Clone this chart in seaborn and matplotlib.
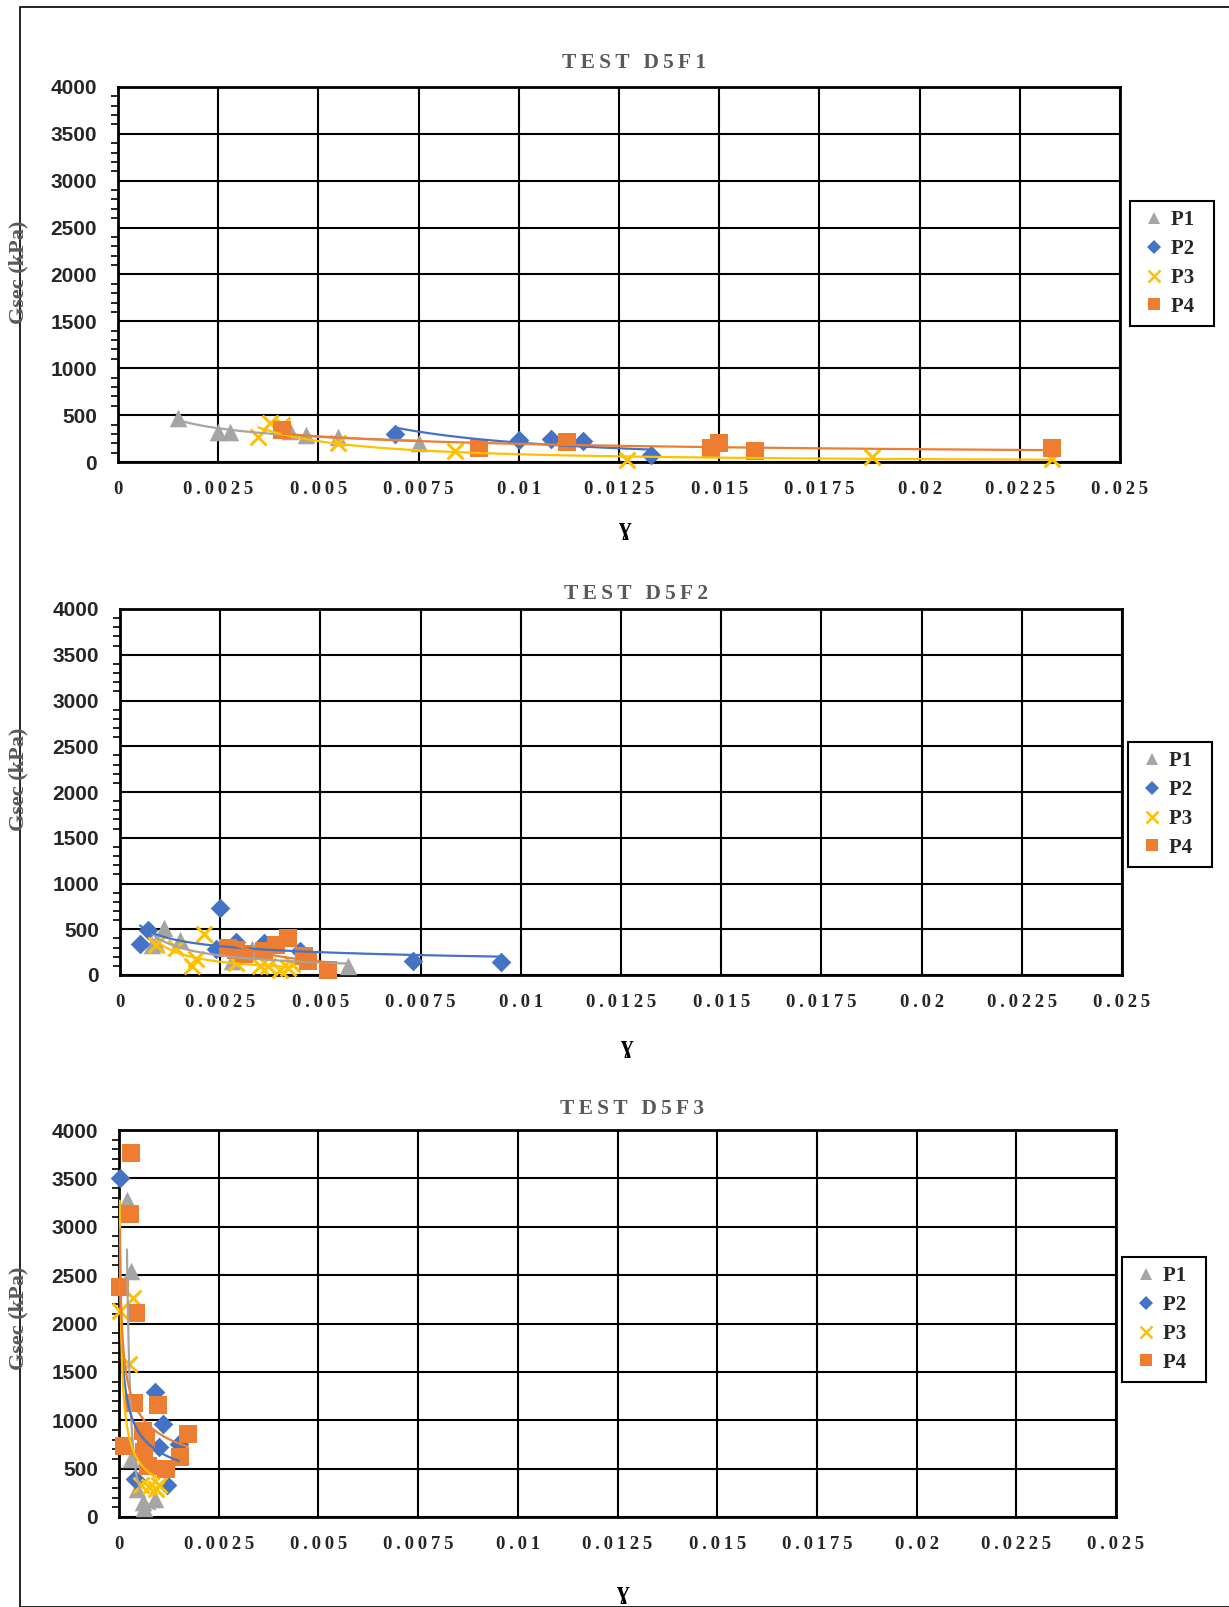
import numpy as np
import pandas as pd
import matplotlib
matplotlib.use("Agg")
import matplotlib.pyplot as plt
import seaborn as sns
from matplotlib.ticker import MultipleLocator, FixedLocator, FixedFormatter
from matplotlib.patches import Rectangle
from matplotlib.lines import Line2D

sns.set_style("white")
plt.rcParams['font.family'] = ['Liberation Serif', 'DejaVu Serif']

# ---------------- data ----------------
series_names = ["P1", "P2", "P3", "P4"]
titles = ["TEST D5F1", "TEST D5F2", "TEST D5F3"]
x_ticks = [0, 0.0025, 0.005, 0.0075, 0.01, 0.0125, 0.015, 0.0175, 0.02, 0.0225, 0.025]
x_tick_labels = ["0", "0.0025", "0.005", "0.0075", "0.01", "0.0125", "0.015",
                 "0.0175", "0.02", "0.0225", "0.025"]
y_ticks = [0, 500, 1000, 1500, 2000, 2500, 3000, 3500, 4000]

# TEST D5F1
f1_p1_x = [0.0015, 0.0025, 0.0028, 0.0043, 0.0047, 0.0055, 0.0075]
f1_p1_y = [470, 320, 320, 330, 290, 270, 205]
f1_p2_x = [0.0069, 0.0100, 0.0108, 0.0116, 0.0133]
f1_p2_y = [300, 230, 250, 220, 80]
f1_p3_x = [0.0035, 0.0038, 0.0041, 0.0055, 0.0084, 0.0127, 0.0188, 0.0233]
f1_p3_y = [270, 420, 400, 200, 120, 20, 55, 30]
f1_p4_x = [0.0041, 0.0090, 0.0112, 0.0148, 0.0150, 0.0159, 0.0233]
f1_p4_y = [340, 150, 215, 145, 205, 115, 145]

# TEST D5F2
f2_p1_x = [0.0008, 0.0009, 0.0011, 0.0015, 0.0028, 0.0033, 0.0057]
f2_p1_y = [330, 350, 510, 385, 150, 280, 95]
f2_p2_x = [0.0005, 0.0007, 0.0024, 0.0025, 0.0029, 0.0036, 0.0045, 0.0073, 0.0095]
f2_p2_y = [340, 490, 285, 730, 365, 350, 260, 155, 140]
f2_p3_x = [0.0009, 0.0014, 0.0018, 0.0019, 0.0021, 0.0029, 0.0035, 0.0037, 0.0040, 0.0042, 0.0043]
f2_p3_y = [330, 295, 100, 170, 450, 135, 100, 100, 60, 80, 115]
f2_p4_x = [0.0027, 0.0029, 0.0031, 0.0036, 0.0039, 0.0042, 0.0046, 0.0047, 0.0052]
f2_p4_y = [295, 275, 225, 260, 330, 400, 205, 150, 60]

# TEST D5F3
f3_p1_x = [0.0002, 0.0003, 0.0003, 0.00046, 0.0006, 0.00063, 0.0009]
f3_p1_y = [3280, 2540, 600, 290, 155, 90, 190]
f3_p2_x = [0.00002, 0.0009, 0.0011, 0.0010, 0.0015, 0.0004, 0.0012]
f3_p2_y = [3500, 1295, 960, 720, 755, 395, 330]
f3_p3_x = [0.00002, 0.00036, 0.00025, 0.00055, 0.00076, 0.00093, 0.00101]
f3_p3_y = [2130, 2260, 1580, 330, 310, 290, 330]
f3_p4_x = [0.0003, 0.00027, 0.00002, 0.00042, 0.00038, 0.00099, 0.00013, 0.00059,
           0.00067, 0.00063, 0.00173, 0.00152, 0.00118, 0.00072]
f3_p4_y = [3760, 3135, 2380, 2110, 1180, 1160, 730, 890, 810, 670, 860, 625, 500, 530]

panels = [
    [(f1_p1_x, f1_p1_y), (f1_p2_x, f1_p2_y), (f1_p3_x, f1_p3_y), (f1_p4_x, f1_p4_y)],
    [(f2_p1_x, f2_p1_y), (f2_p2_x, f2_p2_y), (f2_p3_x, f2_p3_y), (f2_p4_x, f2_p4_y)],
    [(f3_p1_x, f3_p1_y), (f3_p2_x, f3_p2_y), (f3_p3_x, f3_p3_y), (f3_p4_x, f3_p4_y)],
]

# ---------------- styling ----------------
colors = {"P1": "#A5A5A5", "P2": "#4472C4", "P3": "#FFC000", "P4": "#ED7D31"}
markers = {"P1": "^", "P2": "D", "P3": "x", "P4": "s"}
sizes = {"P1": 160, "P2": 100, "P3": 130, "P4": 160}
TITLE_GRAY = "#595959"

W, H = 1229, 1607
fig = plt.figure(figsize=(W / 100, H / 100), dpi=100)

# outer frame
fig.add_artist(Rectangle((20 / W, 0), 1.2, 1 - 7 / H, transform=fig.transFigure,
                         fill=False, edgecolor="black", linewidth=1.2, zorder=0))

# axes boxes in pixel coordinates (left, top, right, bottom)
boxes = [(118, 87, 1120, 462), (120, 609, 1122, 975), (119, 1130, 1116, 1517)]
legend_anchor = [(1130, 201), (1128, 742), (1122, 1257)]
xlabel_y = [528, 1046, 1592]
ylabel_center = [272, 779, 1318]
title_y = [63, 594, 1109]


def spaced(s):
    return "\u2009".join(list(s))


for i, (box, data) in enumerate(zip(boxes, panels)):
    l, t, r, b = box
    ax = fig.add_axes([l / W, 1 - b / H, (r - l) / W, (b - t) / H])
    rows = []
    for name, (xs, ys) in zip(series_names, data):
        for xv, yv in zip(xs, ys):
            rows.append({"gamma": xv, "G": yv, "series": name})
    df = pd.DataFrame(rows)

    for name in series_names:
        sub = df[df["series"] == name]
        kw = dict(linewidth=2.2) if name == "P3" else dict(linewidth=0)
        sns.scatterplot(data=sub, x="gamma", y="G", ax=ax, color=colors[name],
                        marker=markers[name], s=sizes[name], zorder=3, legend=False,
                        clip_on=False, **kw)
    # power trendlines (y = a * x^b) fitted to each series
    for name in series_names:
        sub = df[df["series"] == name]
        bcoef, lna = np.polyfit(np.log(sub["gamma"]), np.log(sub["G"]), 1)
        xx = np.linspace(sub["gamma"].min(), sub["gamma"].max(), 300)
        yy = np.exp(lna) * xx ** bcoef
        trend = pd.DataFrame({"gamma": xx, "G": yy})
        sns.lineplot(data=trend, x="gamma", y="G", ax=ax, color=colors[name],
                     linewidth=1.6, zorder=4, legend=False)

    ax.set_xlim(0, 0.025)
    ax.set_ylim(0, 4000)
    ax.xaxis.set_major_locator(FixedLocator(x_ticks))
    ax.xaxis.set_major_formatter(FixedFormatter([spaced(s) for s in x_tick_labels]))
    ax.yaxis.set_major_locator(FixedLocator(y_ticks))
    ax.yaxis.set_minor_locator(MultipleLocator(100))
    ax.grid(True, which="major", color="black", linewidth=1.5, zorder=0)
    ax.set_axisbelow(True)
    for sp in ax.spines.values():
        sp.set_color("black")
        sp.set_linewidth(2.0)
    ax.tick_params(axis="x", which="major", direction="out", length=6, width=1.5,
                   color="black", pad=8, labelsize=13.5)
    ax.tick_params(axis="y", which="major", direction="out", length=5, width=1.5,
                   color="black", pad=10, labelsize=15)
    ax.tick_params(axis="y", which="minor", direction="out", length=5, width=1.2,
                   color="black", left=True)
    for lab in ax.get_xticklabels():
        lab.set_fontweight("bold")
        lab.set_family(["Liberation Serif", "DejaVu Serif"])
    for lab in ax.get_yticklabels():
        lab.set_fontweight("bold")
        lab.set_family(["Liberation Sans", "DejaVu Sans"])
    ax.set_xlabel("")
    ax.set_ylabel("")

    # title
    fig.text((l + r) / 2 / W + 0.012, 1 - title_y[i] / H, spaced(titles[i]),
             ha="center", va="center", fontsize=15.5, fontweight="bold", color=TITLE_GRAY)
    # x label
    fig.text((l + r) / 2 / W + 0.005, 1 - xlabel_y[i] / H, "\u0263", ha="center",
             va="center", fontsize=18, fontweight="bold", color="black")
    # y label
    fig.text(18 / W, 1 - ylabel_center[i] / H, "Gsec (kPa)", rotation=90, ha="center",
             va="center", fontsize=16, fontweight="bold", color=TITLE_GRAY)

    # legend
    lx, ly = legend_anchor[i]
    handles = []
    for name in series_names:
        if name == "P3":
            h = Line2D([], [], linestyle="none", marker="x", color=colors[name],
                       markersize=9, markeredgewidth=1.8)
        else:
            h = Line2D([], [], linestyle="none", marker=markers[name], color=colors[name],
                       markersize=9 if name != "P2" else 7, markeredgewidth=0)
        handles.append(h)
    leg = fig.legend(handles, [n + "\u2002" for n in series_names], loc="upper left",
                     bbox_to_anchor=(lx / W, 1 - ly / H), bbox_transform=fig.transFigure,
                     frameon=True, fancybox=False, edgecolor="black", framealpha=1,
                     handlelength=1.4, handletextpad=0.1, labelspacing=0.42,
                     borderpad=0.45, borderaxespad=0.0,
                     prop={"weight": "bold", "size": 15})
    leg.get_frame().set_linewidth(1.5)

fig.savefig("out.png", dpi=100)
